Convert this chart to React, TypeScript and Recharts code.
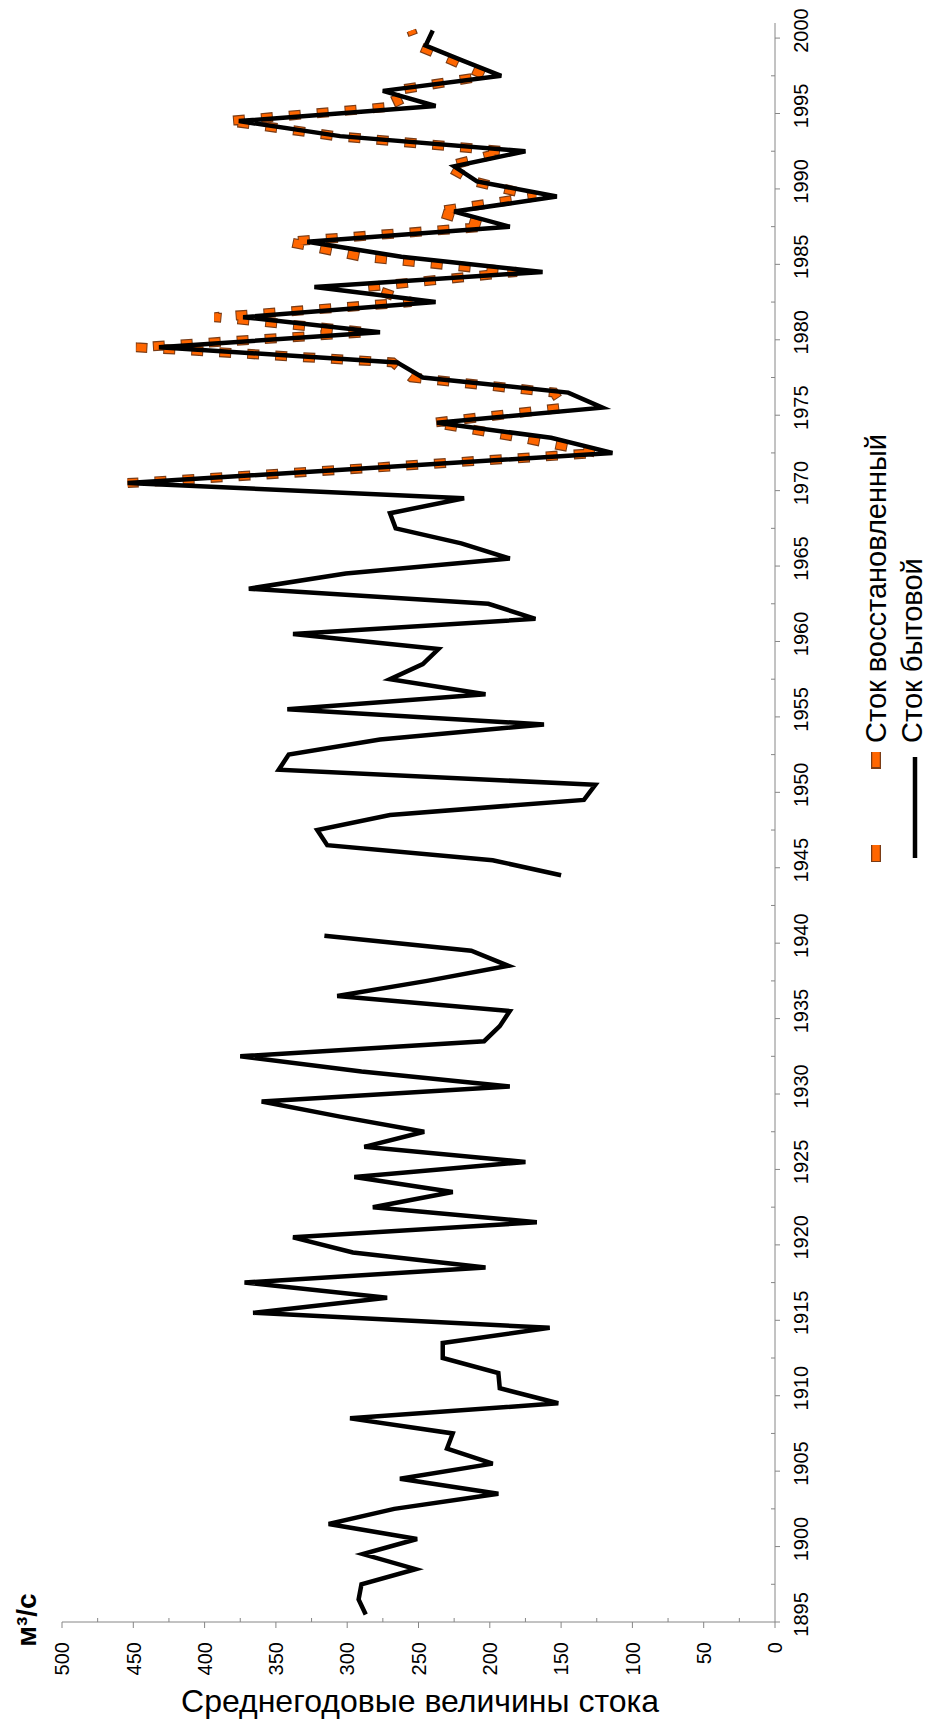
import React from "react";
import { LineChart, Line, XAxis, YAxis } from "recharts";

const years = [
  1895, 1896, 1897, 1898, 1899, 1900, 1901, 1902, 1903, 1904,
  1905, 1906, 1907, 1908, 1909, 1910, 1911, 1912, 1913, 1914,
  1915, 1916, 1917, 1918, 1919, 1920, 1921, 1922, 1923, 1924,
  1925, 1926, 1927, 1928, 1929, 1930, 1931, 1932, 1933, 1934,
  1935, 1936, 1937, 1938, 1939, 1940, 1941, 1942, 1943, 1944,
  1945, 1946, 1947, 1948, 1949, 1950, 1951, 1952, 1953, 1954,
  1955, 1956, 1957, 1958, 1959, 1960, 1961, 1962, 1963, 1964,
  1965, 1966, 1967, 1968, 1969, 1970, 1971, 1972, 1973, 1974,
  1975, 1976, 1977, 1978, 1979, 1980, 1981, 1982, 1983, 1984,
  1985, 1986, 1987, 1988, 1989, 1990, 1991, 1992, 1993, 1994,
  1995, 1996, 1997, 1998, 1999, 2000,
];

// Сток бытовой
const baseFlow: (number | null)[] = [
  287, 292, 290, 252, 289, 251, 313, 267, 194, 263,
  198, 230, 226, 298, 152, 193, 194, 233, 233, 158,
  366, 272, 372, 203, 296, 338, 167, 282, 226, 295,
  175, 288, 246, 305, 360, 186, 290, 375, 204, 193,
  186, 307, 244, 187, 213, 316, null, null, null, 150,
  198, 314, 321, 270, 134, 126, 348, 341, 277, 162,
  342, 203, 270, 247, 236, 338, 168, 201, 369, 301,
  186, 220, 266, 270, 218, 454, 284, 114, 157, 237,
  121, 145, 247, 265, 432, 277, 373, 238, 323, 163,
  262, 328, 186, 225, 153, 209, 225, 175, 305, 376,
  238, 275, 192, 219, 245, 240,
];

// Сток восстановленный
const restoredYears = [
  1970, 1971, 1972, 1973, 1974, 1975, 1976, 1977, 1978, 1979,
  1980, 1981, 1982, 1983, 1984, 1985, 1986, 1987, 1988, 1989,
  1990, 1991, 1992, 1993, 1994, 1995, 1996, 1997, 1998, 1999, 2000,
];
const restoredFlow = [
  454, 285, 124, 178, 240, 148, 155, 255, 268, 448,
  285, 393, 255, 286, 181, 290, 342, 202, 238, 168,
  211, 230, 189, 308, 384, 263, 268, 203, 226, 251, 255,
];

const yearLabels = [
  1895, 1900, 1905, 1910, 1915, 1920, 1925, 1930, 1935, 1940,
  1945, 1950, 1955, 1960, 1965, 1970, 1975, 1980, 1985, 1990,
  1995, 2000,
];
const valueTicks = [0, 50, 100, 150, 200, 250, 300, 350, 400, 450, 500];

const seriesNames = ["Сток восстановленный", "Сток бытовой"];
const titleText = "Среднегодовые величины стока";
const unitText = "м³/с";

const rows = years.map((year, i) => {
  const k = restoredYears.indexOf(year);
  return {
    year,
    base: baseFlow[i],
    restored: k >= 0 ? restoredFlow[k] : null,
  };
});

// tick marks sit between categories, labels on the categories
const xTickMarks = yearLabels.map((y) => y - 0.5);
const xMinor = yearLabels.slice(0, -1).map((y) => y + 2);
const xTicks = [...yearLabels, ...xTickMarks, ...xMinor].sort((a, b) => a - b);
const yMinor = valueTicks.slice(0, -1).map((v) => v + 25);
const yTicks = [...valueTicks, ...yMinor].sort((a, b) => a - b);

const FONT = "'Liberation Sans', Arial, sans-serif";
const AXIS = "#868686";
const ORANGE = "#FF6600";
const ORANGE_EDGE = "#7a3c16";

const XTick = (props: any) => {
  const { x, y, payload } = props;
  const v = payload.value;
  if (yearLabels.includes(v)) {
    return (
      <text x={x} y={y + 33} textAnchor="middle" fontSize={20} fontFamily={FONT} fill="#000">
        {v}
      </text>
    );
  }
  if (xTickMarks.includes(v)) {
    return <line x1={x} y1={y} x2={x} y2={y + 5} stroke={AXIS} strokeWidth={1} />;
  }
  return <line x1={x} y1={y} x2={x} y2={y - 4} stroke={AXIS} strokeWidth={1} />;
};

const YTick = (props: any) => {
  const { x, y, payload } = props;
  const v = payload.value;
  if (valueTicks.includes(v)) {
    return (
      <g>
        <line x1={x} y1={y} x2={x - 6} y2={y} stroke={AXIS} strokeWidth={1} />
        <text x={x - 20} y={y} dy="0.36em" textAnchor="end" fontSize={20} fontFamily={FONT} fill="#000">
          {v}
        </text>
      </g>
    );
  }
  return <line x1={x} y1={y} x2={x + 4} y2={y} stroke={AXIS} strokeWidth={1} />;
};

const W = 1724;
const H = 932;

export default function App() {
  return (
    <div style={{ position: "relative", width: 932, height: 1724, overflow: "hidden", background: "#fff" }}>
      <style>{"body{margin:0}"}</style>
      <div
        style={{
          position: "absolute",
          left: 0,
          top: 0,
          width: W,
          height: H,
          transformOrigin: "0 0",
          transform: `translate(0px, ${W}px) rotate(-90deg)`,
        }}
      >
        <LineChart width={W} height={H} data={rows} margin={{ top: 62, right: 23, left: 0, bottom: 0 }}>
          <XAxis
            dataKey="year"
            type="number"
            domain={[1894.5, 2000.5]}
            ticks={xTicks}
            interval={0}
            tickSize={0}
            tickMargin={0}
            tickLine={false}
            tick={XTick}
            axisLine={{ stroke: AXIS, strokeWidth: 1 }}
            height={157}
            allowDataOverflow
          />
          <YAxis
            type="number"
            domain={[0, 500]}
            ticks={yTicks}
            interval={0}
            tickSize={0}
            tickMargin={0}
            tickLine={false}
            tick={YTick}
            axisLine={{ stroke: AXIS, strokeWidth: 1 }}
            width={102}
            allowDataOverflow
          />
          <Line
            dataKey="restored"
            name={seriesNames[0]}
            stroke={ORANGE_EDGE}
            strokeWidth={10}
            strokeDasharray="12 16"
            strokeDashoffset={1}
            strokeLinecap="butt"
            dot={false}
            activeDot={false}
            isAnimationActive={false}
            legendType="none"
          />
          <Line
            dataKey="restored"
            name={seriesNames[0]}
            stroke={ORANGE}
            strokeWidth={7.5}
            strokeDasharray="10 18"
            strokeLinecap="butt"
            dot={false}
            activeDot={false}
            isAnimationActive={false}
          />
          <Line
            dataKey="base"
            name={seriesNames[1]}
            stroke="#000"
            strokeWidth={4.5}
            strokeLinejoin="miter"
            dot={false}
            activeDot={false}
            isAnimationActive={false}
          />
        </LineChart>
        <svg
          width={W}
          height={H}
          style={{ position: "absolute", left: 0, top: 0, pointerEvents: "none" }}
        >
          <text x={104} y={36} textAnchor="middle" fontSize={28} fontWeight="bold" fontFamily={FONT} fill="#000">
            {unitText}
          </text>
          <text
            x={12}
            y={420}
            transform="rotate(90 12 420)"
            textAnchor="middle"
            fontSize={32}
            fontFamily={FONT}
            fill="#000"
          >
            {titleText}
          </text>
          <line x1={862} y1={876} x2={972} y2={876} stroke={ORANGE_EDGE} strokeWidth={10} strokeDasharray="18 76" strokeDashoffset={1} />
          <line x1={863} y1={876} x2={972} y2={876} stroke={ORANGE} strokeWidth={7.5} strokeDasharray="16 78" />
          <text x={981} y={886} fontSize={29} fontFamily={FONT} fill="#000">
            {seriesNames[0]}
          </text>
          <line x1={866} y1={915} x2={967} y2={915} stroke="#000" strokeWidth={4.5} />
          <text x={981} y={922} fontSize={29} fontFamily={FONT} fill="#000">
            {seriesNames[1]}
          </text>
        </svg>
      </div>
    </div>
  );
}
